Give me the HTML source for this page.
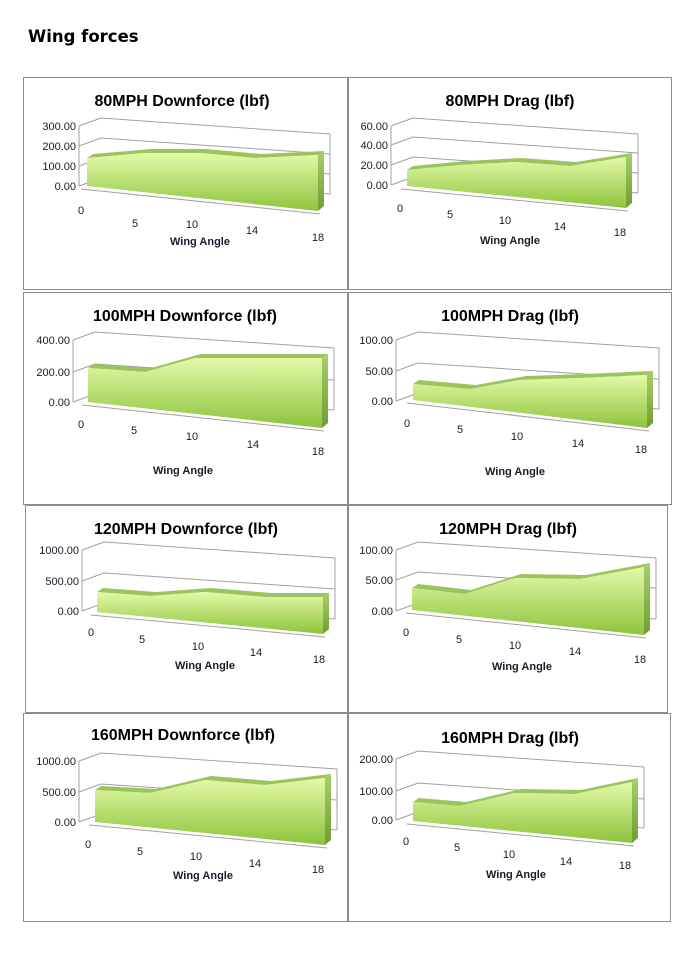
<!DOCTYPE html>
<html><head><meta charset="utf-8">
<style>
body{margin:0;background:#fff;width:698px;height:980px;overflow:hidden;}
svg{position:absolute;left:0;top:0;}
</style></head>
<body>
<svg id="s" width="698" height="980" xmlns="http://www.w3.org/2000/svg">
<defs>
<linearGradient id="g" x1="0" y1="0" x2="0" y2="1">
<stop offset="0" stop-color="#e4f9a8"/><stop offset="1" stop-color="#8cc43c"/>
</linearGradient>
<linearGradient id="gs" x1="0" y1="0" x2="0" y2="1">
<stop offset="0" stop-color="#a8cf6a"/><stop offset="1" stop-color="#6f9c30"/>
</linearGradient>
</defs>
<text x="28" y="42" font-family="DejaVu Sans, sans-serif" font-weight="bold" font-size="16.5" fill="#000">Wing forces</text>
</svg>
<script>
var C=[
{box:[23,77,347,289],title:"80MPH Downforce (lbf)",tx:182,ty:106,yl:[["300.00",130],["200.00",150],["100.00",170],["0.00",190]],lr:76,
 L:[87,186],R:[318,211],top:[[87,158],[145,153],[200,153],[255,158],[318,155]],
 xl:[[81,214],[135,227],[192,228],[252,234],[318,241]],wa:[200,245]},
{box:[348,77,671,289],title:"80MPH Drag (lbf)",tx:510,ty:106,yl:[["60.00",130],["40.00",149],["20.00",169],["0.00",189]],lr:388,
 L:[407,186],R:[626,208],top:[[407,170],[460,165],[515,162],[570,166],[626,157]],
 xl:[[400,212],[450,218],[505,224],[560,230],[620,236]],wa:[510,244]},
{box:[23,292,347,504],title:"100MPH Downforce (lbf)",tx:185,ty:321,yl:[["400.00",344],["200.00",376],["0.00",406]],lr:70,
 L:[88,402],R:[322,428],top:[[88,368],[145,372],[195,358],[260,358],[322,358]],
 xl:[[81,428],[134,434],[192,440],[253,448],[318,455]],wa:[183,474]},
{box:[348,292,671,504],title:"100MPH Drag (lbf)",tx:510,ty:321,yl:[["100.00",344],["50.00",375],["0.00",405]],lr:393,
 L:[413,400],R:[647,428],top:[[413,384],[470,389],[520,380],[580,378],[647,375]],
 xl:[[407,427],[460,433],[517,440],[578,447],[641,453]],wa:[515,475]},
{box:[25,505,347,712],title:"120MPH Downforce (lbf)",tx:186,ty:534,yl:[["1000.00",554],["500.00",585],["0.00",615]],lr:79,
 L:[97,612],R:[323,634],top:[[97,592],[150,596],[205,592],[265,597],[323,597]],
 xl:[[91,636],[142,643],[198,650],[256,656],[319,663]],wa:[205,669]},
{box:[348,505,667,712],title:"120MPH Drag (lbf)",tx:508,ty:534,yl:[["100.00",554],["50.00",584],["0.00",615]],lr:393,
 L:[412,610],R:[644,635],top:[[412,588],[465,594],[515,578],[580,579],[644,567]],
 xl:[[406,636],[459,643],[515,649],[575,655],[640,663]],wa:[522,670]},
{box:[23,713,347,921],title:"160MPH Downforce (lbf)",tx:183,ty:740,yl:[["1000.00",765],["500.00",796],["0.00",826]],lr:76,
 L:[95,822],R:[325,845],top:[[95,790],[150,793],[205,780],[265,785],[325,778]],
 xl:[[88,848],[140,855],[196,860],[255,867],[318,873]],wa:[203,879]},
{box:[348,713,670,921],title:"160MPH Drag (lbf)",tx:510,ty:743,yl:[["200.00",763],["100.00",795],["0.00",824]],lr:393,
 L:[413,821],R:[632,843],top:[[413,802],[460,806],[515,793],[575,794],[632,782]],
 xl:[[406,845],[457,851],[509,858],[566,865],[625,869]],wa:[516,878]}
];
var h='';
function p(a){return a.map(function(q){return q[0]+','+q[1]}).join(' ');}
C.forEach(function(c){
 var b=c.box;
 h+='<rect x="'+(b[0]+.5)+'" y="'+(b[1]+.5)+'" width="'+(b[2]-b[0])+'" height="'+(b[3]-b[1])+'" fill="#fff" stroke="#8c8c8c" stroke-width="1"/>';
 h+='<text x="'+c.tx+'" y="'+c.ty+'" text-anchor="middle" font-family="Liberation Sans, sans-serif" font-weight="bold" font-size="16" fill="#000">'+c.title+'</text>';
 var ax=c.lr+3, rEnd=c.R[0]+12, n=c.yl.length;
 var y0=c.yl[n-1][1], yT=c.yl[0][1];
 c.yl.forEach(function(l){
  var y=l[1]-4;
  h+='<polyline points="'+ax+','+y+' '+(ax+22)+','+(y-8)+' '+rEnd+','+(y+8)+'" fill="none" stroke="#a0a0a0" stroke-width="1"/>';
  h+='<text x="'+c.lr+'" y="'+l[1]+'" text-anchor="end" font-family="Liberation Sans, sans-serif" font-size="11" fill="#1a1a2a">'+l[0]+'</text>';
 });
 h+='<line x1="'+ax+'" y1="'+(yT-4)+'" x2="'+ax+'" y2="'+(y0-4)+'" stroke="#a0a0a0"/>';
 h+='<line x1="'+rEnd+'" y1="'+(yT+4)+'" x2="'+rEnd+'" y2="'+(y0+4)+'" stroke="#a0a0a0"/>';
 h+='<line x1="'+(c.L[0]-6)+'" y1="'+(c.L[1]+3)+'" x2="'+(c.R[0]+2)+'" y2="'+(c.R[1]+3)+'" stroke="#a0a0a0"/>';
 var t=c.top, L=c.L, R=c.R;
 var back=t.map(function(q){return [q[0]+6,q[1]-4]}).reverse();
 h+='<polygon points="'+p(t)+' '+p(back)+'" fill="#9cc45c"/>';
 h+='<polygon points="'+R[0]+','+R[1]+' '+t[t.length-1][0]+','+t[t.length-1][1]+' '+(R[0]+6)+','+(t[t.length-1][1]-4)+' '+(R[0]+6)+','+(R[1]-5)+'" fill="url(#gs)"/>';
 h+='<polygon points="'+p(t)+' '+R[0]+','+R[1]+' '+L[0]+','+L[1]+'" fill="url(#g)"/>';
 c.xl.forEach(function(x,i){
  h+='<text x="'+x[0]+'" y="'+x[1]+'" text-anchor="middle" font-family="Liberation Sans, sans-serif" font-size="11" fill="#1a1a2a">'+[0,5,10,14,18][i]+'</text>';
 });
 h+='<text x="'+c.wa[0]+'" y="'+c.wa[1]+'" text-anchor="middle" font-family="Liberation Sans, sans-serif" font-weight="bold" font-size="11" fill="#1a1a2a">Wing Angle</text>';
});
document.getElementById('s').insertAdjacentHTML('beforeend',h);
</script>
</body></html>
